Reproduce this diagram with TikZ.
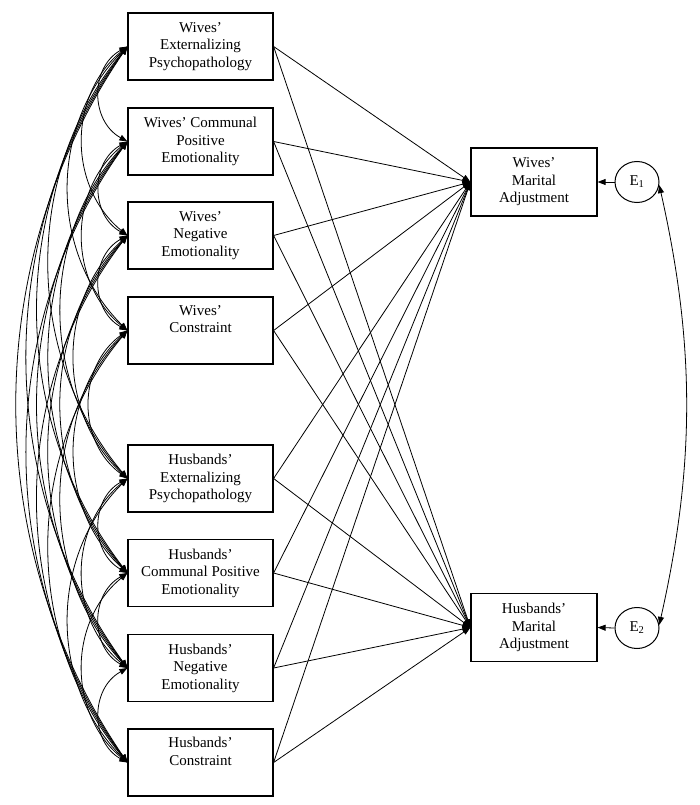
\documentclass[tikz,border=0pt]{standalone}
\usepackage{fontspec}
\setmainfont{Liberation Serif}
\usetikzlibrary{arrows.meta,shapes.geometric}
\tikzset{
  pbox/.style={draw, line width=1.2pt, minimum width=145pt, minimum height=67pt,
    align=center, inner sep=0pt, font=\fontsize{15}{17.5}\selectfont},
  obox/.style={draw, line width=1.2pt, minimum width=126pt, minimum height=68pt,
    align=center, inner sep=0pt, font=\fontsize{15}{17.5}\selectfont},
  errnode/.style={draw, line width=1pt, ellipse, minimum width=44pt, minimum height=41pt,
    inner sep=0pt, font=\fontsize{15}{17.5}\selectfont},
  arr/.style={line width=0.8pt, -{Triangle[length=8pt,width=6pt]}},
  cov/.style={line width=0.8pt, {Triangle[length=8pt,width=6pt]}-{Triangle[length=8pt,width=6pt]}},
}
\begin{document}
\begin{tikzpicture}[x=1pt,y=-1pt]
\useasboundingbox (0,0) rectangle (700,805);
\node[pbox] (p1) at (200.5,46.5) {Wives’\\Externalizing\\Psychopathology};
\node[pbox] (p2) at (200.5,141.5) {Wives’ Communal\\Positive\\Emotionality};
\node[pbox] (p3) at (200.5,235.5) {Wives’\\Negative\\Emotionality};
\node[pbox] (p4) at (200.5,330.5) {Wives’\\Constraint\\\strut};
\node[pbox] (p5) at (200.5,478.5) {Husbands’\\Externalizing\\Psychopathology};
\node[pbox] (p6) at (200.5,573) {Husbands’\\Communal Positive\\Emotionality};
\node[pbox] (p7) at (200.5,668) {Husbands’\\Negative\\Emotionality};
\node[pbox] (p8) at (200.5,762.5) {Husbands’\\Constraint\\\strut};
\node[obox] (wma) at (534,182) {Wives’\\Marital\\Adjustment};
\node[obox] (hma) at (534,627.5) {Husbands’\\Marital\\Adjustment};
\node[errnode] (e1) at (637,182) {E\textsubscript{1}};
\node[errnode] (e2) at (637,628) {E\textsubscript{2}};
\foreach \i in {1,...,8}{
  \draw[arr] (p\i.east) -- (wma.west);
  \draw[arr] (p\i.east) -- (hma.west);
}
\draw[arr] (e1.west) -- (wma.east);
\draw[arr] (e2.west) -- (hma.east);
\draw[cov] (e1.-8) .. controls +(36,160) and +(36,-160) .. (e2.8);
\def\ys{{46.5,141.5,235.5,330.5,478.5,573,668,762.5}}
\foreach \i in {1,...,7}{
  \pgfmathtruncatemacro{\nx}{\i+1}
  \foreach \j in {\nx,...,8}{
    \pgfmathsetmacro{\L}{\ys[\j-1]-\ys[\i-1]}
    \pgfmathsetmacro{\S}{28*pow(\L/95,0.68)}
    \pgfmathsetmacro{\H}{\S/0.75}
    \pgfmathsetmacro{\A}{2*atan(2*\S/\L)}
    \pgfmathsetmacro{\V}{\H/tan(\A)}
    \draw[cov] (p\i.west) .. controls +(-\H,\V) and +(-\H,-\V) .. (p\j.west);
  }
}
\end{tikzpicture}
\end{document}
